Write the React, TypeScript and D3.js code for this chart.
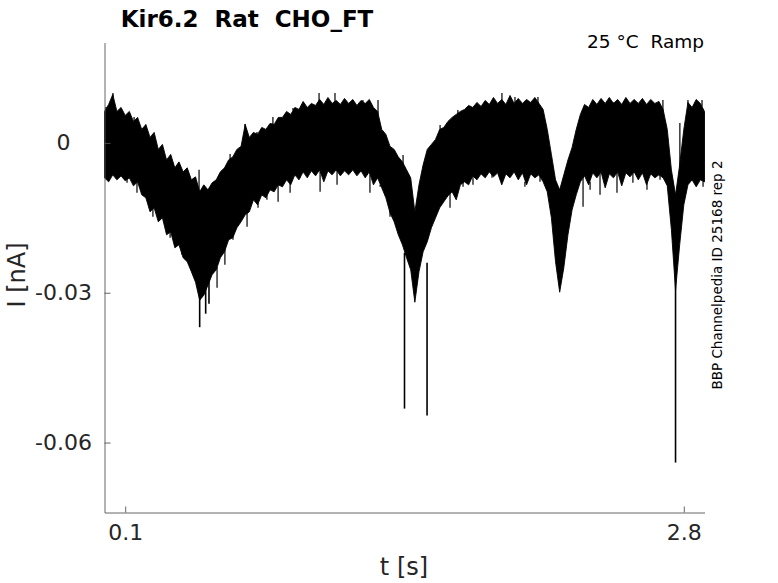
import React, { useEffect, useRef } from 'react';
import * as d3 from 'd3';

// sampled envelope of the recorded current (nA), one pair every sampleStep seconds
const sampleStart = 0;
const sampleStep = 0.02;

const upper = [
  0.0063, 0.0077, 0.0097, 0.0063, 0.0071, 0.0055, 0.0063, 0.0043, 0.0051, 0.0027,
  0.0037, 0.0011, 0.0021, -0.0013, -0.0003, -0.0034, -0.0023, -0.0050, -0.0038, -0.0058,
  -0.0050, -0.0074, -0.0068, -0.0098, -0.0084, -0.0094, -0.0080, -0.0074, -0.0058, -0.0050,
  -0.0034, -0.0028, -0.0013, -0.0007, 0.0037, 0.0011, 0.0021, 0.0017, 0.0031, 0.0027,
  0.0039, 0.0037, 0.0051, 0.0051, 0.0063, 0.0057, 0.0071, 0.0067, 0.0083, 0.0071,
  0.0079, 0.0075, 0.0087, 0.0077, 0.0091, 0.0079, 0.0085, 0.0077, 0.0089, 0.0079,
  0.0087, 0.0075, 0.0085, 0.0079, 0.0087, 0.0071, 0.0063, 0.0027, 0.0017, -0.0007,
  -0.0013, -0.0028, -0.0038, -0.0054, -0.0070, -0.0138, -0.0084, -0.0044, -0.0013, -0.0003,
  0.0007, 0.0027, 0.0031, 0.0043, 0.0051, 0.0057, 0.0063, 0.0067, 0.0075, 0.0071,
  0.0081, 0.0073, 0.0085, 0.0077, 0.0091, 0.0079, 0.0087, 0.0077, 0.0095, 0.0079,
  0.0089, 0.0079, 0.0087, 0.0081, 0.0091, 0.0079, 0.0067, 0.0027, -0.0023, -0.0074,
  -0.0094, -0.0064, -0.0034, -0.0009, 0.0027, 0.0057, 0.0077, 0.0071, 0.0087, 0.0077,
  0.0089, 0.0079, 0.0091, 0.0079, 0.0087, 0.0077, 0.0091, 0.0079, 0.0087, 0.0079,
  0.0089, 0.0077, 0.0087, 0.0079, 0.0083, 0.0067, 0.0027, -0.0054, -0.0104, -0.0044,
  0.0027, 0.0081, 0.0071, 0.0087, 0.0079, 0.0063,
];

const lower = [
  -0.0070, -0.0078, -0.0064, -0.0074, -0.0066, -0.0076, -0.0070, -0.0086, -0.0078, -0.0104,
  -0.0110, -0.0138, -0.0130, -0.0158, -0.0150, -0.0184, -0.0178, -0.0210, -0.0204, -0.0230,
  -0.0238, -0.0258, -0.0279, -0.0315, -0.0305, -0.0285, -0.0264, -0.0254, -0.0230, -0.0218,
  -0.0194, -0.0190, -0.0170, -0.0158, -0.0144, -0.0138, -0.0114, -0.0124, -0.0104, -0.0110,
  -0.0094, -0.0098, -0.0084, -0.0088, -0.0074, -0.0084, -0.0064, -0.0074, -0.0058, -0.0070,
  -0.0056, -0.0066, -0.0054, -0.0078, -0.0056, -0.0064, -0.0054, -0.0066, -0.0056, -0.0064,
  -0.0054, -0.0066, -0.0056, -0.0070, -0.0058, -0.0084, -0.0070, -0.0090, -0.0110, -0.0140,
  -0.0158, -0.0184, -0.0204, -0.0230, -0.0254, -0.0319, -0.0258, -0.0218, -0.0198, -0.0170,
  -0.0150, -0.0130, -0.0118, -0.0106, -0.0098, -0.0114, -0.0084, -0.0078, -0.0084, -0.0066,
  -0.0074, -0.0062, -0.0070, -0.0058, -0.0068, -0.0060, -0.0084, -0.0062, -0.0070, -0.0058,
  -0.0074, -0.0060, -0.0084, -0.0062, -0.0070, -0.0064, -0.0078, -0.0098, -0.0150, -0.0238,
  -0.0299, -0.0250, -0.0184, -0.0134, -0.0104, -0.0078, -0.0066, -0.0084, -0.0060, -0.0070,
  -0.0058, -0.0090, -0.0062, -0.0070, -0.0058, -0.0086, -0.0060, -0.0068, -0.0058, -0.0074,
  -0.0060, -0.0084, -0.0062, -0.0070, -0.0064, -0.0070, -0.0086, -0.0174, -0.0295, -0.0204,
  -0.0124, -0.0084, -0.0074, -0.0088, -0.0074, -0.0078,
];

// single noise peaks sticking out of the band
const peakUpTimes = [
  0.007, 0.041, 0.143, 0.196, 0.234, 0.457, 0.607, 0.679, 0.737, 0.814,
  0.911, 1.037, 1.114, 1.249, 1.322, 1.443, 1.622, 1.679, 1.708, 1.921,
  1.984, 2.095, 2.332, 2.458, 2.554, 2.699, 2.781, 2.82, 2.888,
];
const peakUpValues = [
  0.0072, 0.01, 0.0052, 0.0012, 0.0016, -0.0054, -0.0022, 0.0038, 0.0022, 0.0052,
  0.007, 0.01, 0.01, 0.0086, 0.0086, -0.0024, 0.0036, 0.0036, 0.0066, 0.01,
  0.0092, 0.0092, 0.0072, 0.0082, 0.0082, 0.0086, 0.004, 0.0086, 0.0086,
];
const peakDownTimes = [
  0.022, 0.109, 0.157, 0.234, 0.317, 0.375, 0.423, 0.544, 0.582, 0.621,
  0.689, 0.742, 0.785, 0.839, 0.897, 0.945, 1.042, 1.124, 1.283, 1.332,
  1.38, 1.428, 1.67, 1.733, 1.781, 1.873, 2.032, 2.105, 2.313, 2.347,
  2.395, 2.477, 2.554, 2.622, 2.685, 2.845, 2.893,
];
const peakDownValues = [
  -0.007, -0.008, -0.01, -0.0148, -0.019, -0.0214, -0.024, -0.029, -0.0244, -0.0194,
  -0.0168, -0.013, -0.0114, -0.0118, -0.01, -0.007, -0.0098, -0.0084, -0.01, -0.0088,
  -0.0148, -0.0178, -0.013, -0.0088, -0.0084, -0.007, -0.0088, -0.0078, -0.0128, -0.0094,
  -0.0104, -0.01, -0.008, -0.0094, -0.0074, -0.0074, -0.0088,
];

// fast downward transients
const spikeTimes = [0.46, 0.489, 0.505, 1.45, 1.559, 2.76];
const spikeTops = [-0.026, -0.026, -0.026, -0.022, -0.024, -0.022];
const spikeMins = [-0.0369, -0.0342, -0.0322, -0.0532, -0.0546, -0.064];

const xTicks = [0.1, 2.8];
const xTickLabels = ['0.1', '2.8'];
const yTicks = [-0.06, -0.03, 0];
const yTickLabels = ['-0.06', '-0.03', '0'];

const font = '"DejaVu Sans", sans-serif';

export default function App() {
  const ref = useRef<SVGSVGElement>(null);

  useEffect(() => {
    const svg = d3.select(ref.current);
    svg.selectAll('*').remove();

    const left = 104.5;
    const right = 704.5;
    const top = 42.5;
    const bottom = 512.5;

    const x = d3.scaleLinear().domain([0, 2.9]).range([left, right]);
    const y = d3.scaleLinear().domain([-0.074, 0.0201]).range([bottom, top]);

    const trace = upper.map((u, i) => ({ t: sampleStart + i * sampleStep, hi: u, lo: lower[i] }));
    const nearest = (t: number) =>
      Math.max(0, Math.min(trace.length - 1, Math.round((t - sampleStart) / sampleStep)));

    //noise band
    const band = d3.area<any>()
      .x((d) => x(d.t))
      .y0((d) => y(d.lo))
      .y1((d) => y(d.hi));

    svg.append('path')
      .datum(trace)
      .attr('d', band)
      .attr('fill', '#000')
      .attr('stroke', '#000')
      .attr('stroke-width', 0.9)
      .attr('stroke-linejoin', 'miter');

    //single peaks above and below the band
    const peaks = svg.append('g').attr('stroke', '#000').attr('stroke-width', 1.2);
    peaks.selectAll('line.up')
      .data(peakUpTimes)
      .enter()
      .append('line')
      .attr('class', 'up')
      .attr('x1', (t) => x(t))
      .attr('x2', (t) => x(t))
      .attr('y1', (t) => y(trace[nearest(t)].hi) + 3)
      .attr('y2', (t, i) => y(peakUpValues[i]));
    peaks.selectAll('line.down')
      .data(peakDownTimes)
      .enter()
      .append('line')
      .attr('class', 'down')
      .attr('x1', (t) => x(t))
      .attr('x2', (t) => x(t))
      .attr('y1', (t) => y(trace[nearest(t)].lo) - 3)
      .attr('y2', (t, i) => y(peakDownValues[i]));

    //transients
    svg.append('g')
      .selectAll('line')
      .data(spikeTimes)
      .enter()
      .append('line')
      .attr('x1', (t) => x(t))
      .attr('x2', (t) => x(t))
      .attr('y1', (t, i) => y(spikeTops[i]))
      .attr('y2', (t, i) => y(spikeMins[i]))
      .attr('stroke', '#000')
      .attr('stroke-width', 1.6);

    //y axis
    const yAxis = svg.append('g')
      .attr('transform', `translate(${left}, 0)`)
      .call(d3.axisLeft(y)
        .tickValues(yTicks)
        .tickFormat((d, i) => yTickLabels[i])
        .tickSizeInner(-6)
        .tickSizeOuter(0));
    yAxis.select('.domain').attr('stroke', '#555').attr('stroke-width', 0.9);
    yAxis.selectAll('.tick line').attr('stroke', '#555').attr('stroke-width', 0.9);
    yAxis.selectAll('.tick text')
      .attr('x', -41)
      .attr('text-anchor', 'middle')
      .attr('fill', '#262626')
      .style('font-family', font)
      .style('font-size', '22px');

    //x axis
    const xAxis = svg.append('g')
      .attr('transform', `translate(0, ${bottom})`)
      .call(d3.axisBottom(x)
        .tickValues(xTicks)
        .tickFormat((d, i) => xTickLabels[i])
        .tickSizeInner(-6)
        .tickSizeOuter(0));
    xAxis.select('.domain').attr('stroke', '#555').attr('stroke-width', 0.9);
    xAxis.selectAll('.tick line').attr('stroke', '#555').attr('stroke-width', 0.9);
    xAxis.selectAll('.tick text')
      .attr('y', 27)
      .attr('dy', 0)
      .attr('fill', '#262626')
      .style('font-family', font)
      .style('font-size', '22px');

    //labels
    svg.append('text')
      .attr('x', 404)
      .attr('y', 575)
      .attr('text-anchor', 'middle')
      .attr('fill', '#262626')
      .style('font-family', font)
      .style('font-size', '24px')
      .text('t [s]');

    svg.append('text')
      .attr('transform', 'translate(25, 275) rotate(-90)')
      .attr('text-anchor', 'middle')
      .attr('fill', '#262626')
      .style('font-family', font)
      .style('font-size', '24px')
      .text('I [nA]');

    svg.append('text')
      .attr('x', 247)
      .attr('y', 27)
      .attr('text-anchor', 'middle')
      .attr('fill', '#000')
      .style('font-family', font)
      .style('font-size', '23px')
      .style('font-weight', 'bold')
      .style('white-space', 'pre')
      .text('Kir6.2  Rat  CHO_FT');

    svg.append('text')
      .attr('x', 704)
      .attr('y', 47.5)
      .attr('text-anchor', 'end')
      .attr('fill', '#000')
      .style('font-family', font)
      .style('font-size', '18.5px')
      .style('white-space', 'pre')
      .text('25 °C  Ramp');

    svg.append('text')
      .attr('transform', 'translate(722, 275) rotate(-90)')
      .attr('text-anchor', 'middle')
      .attr('fill', '#000')
      .style('font-family', font)
      .style('font-size', '13.5px')
      .text('BBP Channelpedia ID 25168 rep 2');
  }, []);

  return (
    <svg
      ref={ref}
      width={778}
      height={583}
      style={{ position: 'absolute', left: 0, top: 0, background: '#fff' }}
    ></svg>
  );
}
